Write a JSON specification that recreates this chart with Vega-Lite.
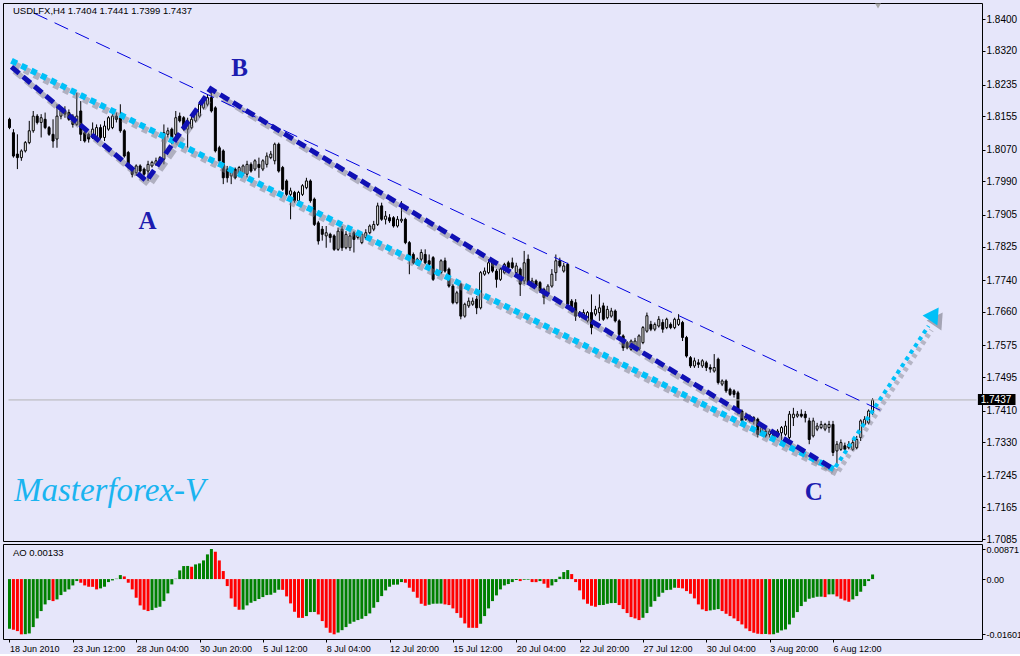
{
"$schema": "https://vega.github.io/schema/vega-lite/v6.json",
"background": "#E6E6FA",
"padding": {"left": 2, "top": 2, "right": 0, "bottom": 0},
"spacing": 3,
"bounds": "flush",
"config": {
  "view": {"stroke": "#000000", "strokeWidth": 1, "fill": "#E6E6FA"},
  "axis": {"labelFont": "Liberation Sans", "labelFontSize": 10, "labelColor": "#000000", "tickColor": "#000000", "tickSize": 3, "domain": false, "grid": false, "title": null, "labelOverlap": false, "labelBound": false, "labelFlush": false},
  "text": {"font": "Liberation Sans"}
},
"datasets": {
"candles": [
{"i":0,"o":1.8147,"h":1.8151,"l":1.8122,"c":1.8126},{"i":1,"o":1.8113,"h":1.8122,"l":1.805,"c":1.8054},{"i":2,"o":1.8059,"h":1.8109,"l":1.8021,"c":1.805},{"i":3,"o":1.805,"h":1.8071,"l":1.8042,"c":1.8067},{"i":4,"o":1.8067,"h":1.8092,"l":1.8063,"c":1.8088},{"i":5,"o":1.8088,"h":1.8143,"l":1.8084,"c":1.8118},{"i":6,"o":1.8118,"h":1.8168,"l":1.8113,"c":1.8155},{"i":7,"o":1.8155,"h":1.816,"l":1.8134,"c":1.8139},{"i":8,"o":1.8139,"h":1.816,"l":1.8101,"c":1.8151},{"i":9,"o":1.8147,"h":1.8164,"l":1.8122,"c":1.8126},
{"i":10,"o":1.8126,"h":1.813,"l":1.8105,"c":1.8109},{"i":11,"o":1.8109,"h":1.8147,"l":1.8075,"c":1.8092},{"i":12,"o":1.8097,"h":1.8185,"l":1.8075,"c":1.8155},{"i":13,"o":1.8155,"h":1.8176,"l":1.8147,"c":1.8168},{"i":14,"o":1.8168,"h":1.818,"l":1.8151,"c":1.816},{"i":15,"o":1.8164,"h":1.8172,"l":1.8143,"c":1.8147},{"i":16,"o":1.8155,"h":1.816,"l":1.8126,"c":1.8134},{"i":17,"o":1.8134,"h":1.8214,"l":1.813,"c":1.8155},{"i":18,"o":1.8168,"h":1.8193,"l":1.8092,"c":1.8109},{"i":19,"o":1.8113,"h":1.8126,"l":1.8088,"c":1.8092},
{"i":20,"o":1.8109,"h":1.8113,"l":1.8088,"c":1.8097},{"i":21,"o":1.8101,"h":1.8139,"l":1.8097,"c":1.8122},{"i":22,"o":1.8101,"h":1.8134,"l":1.8097,"c":1.8126},{"i":23,"o":1.8126,"h":1.8134,"l":1.8097,"c":1.8101},{"i":24,"o":1.8101,"h":1.8143,"l":1.8092,"c":1.813},{"i":25,"o":1.8122,"h":1.8155,"l":1.8118,"c":1.8151},{"i":26,"o":1.8126,"h":1.816,"l":1.8122,"c":1.8155},{"i":27,"o":1.8155,"h":1.8164,"l":1.8139,"c":1.8147},{"i":28,"o":1.8151,"h":1.8185,"l":1.8113,"c":1.8118},{"i":29,"o":1.8118,"h":1.8122,"l":1.805,"c":1.8054},
{"i":30,"o":1.8063,"h":1.8067,"l":1.8021,"c":1.8025},{"i":31,"o":1.8025,"h":1.8029,"l":1.8,"c":1.8008},{"i":32,"o":1.8012,"h":1.8033,"l":1.8004,"c":1.8029},{"i":33,"o":1.8029,"h":1.8033,"l":1.8012,"c":1.8016},{"i":34,"o":1.8021,"h":1.8025,"l":1.8004,"c":1.8008},{"i":35,"o":1.8016,"h":1.8042,"l":1.7991,"c":1.8033},{"i":36,"o":1.8029,"h":1.8042,"l":1.8025,"c":1.8038},{"i":37,"o":1.8033,"h":1.805,"l":1.8029,"c":1.8042},{"i":38,"o":1.8038,"h":1.8054,"l":1.8033,"c":1.805},{"i":39,"o":1.8046,"h":1.8134,"l":1.8033,"c":1.8113},
{"i":40,"o":1.8109,"h":1.8126,"l":1.8101,"c":1.8118},{"i":41,"o":1.8122,"h":1.8126,"l":1.8084,"c":1.8088},{"i":42,"o":1.8109,"h":1.8168,"l":1.8101,"c":1.8151},{"i":43,"o":1.8155,"h":1.8164,"l":1.8139,"c":1.8143},{"i":44,"o":1.8151,"h":1.8155,"l":1.8118,"c":1.8122},{"i":45,"o":1.8122,"h":1.8151,"l":1.8075,"c":1.8143},{"i":46,"o":1.8126,"h":1.8155,"l":1.8122,"c":1.8147},{"i":47,"o":1.8143,"h":1.8168,"l":1.8139,"c":1.8164},{"i":48,"o":1.8155,"h":1.8193,"l":1.8151,"c":1.8185},{"i":49,"o":1.8176,"h":1.8202,"l":1.8172,"c":1.8193},
{"i":50,"o":1.8185,"h":1.821,"l":1.818,"c":1.8202},{"i":51,"o":1.8202,"h":1.8223,"l":1.8164,"c":1.8168},{"i":52,"o":1.8176,"h":1.818,"l":1.8063,"c":1.8067},{"i":53,"o":1.8075,"h":1.808,"l":1.8033,"c":1.8042},{"i":54,"o":1.8067,"h":1.8071,"l":1.7983,"c":1.7999},{"i":55,"o":1.8021,"h":1.8029,"l":1.7987,"c":1.7999},{"i":56,"o":1.8004,"h":1.8021,"l":1.7983,"c":1.8016},{"i":57,"o":1.8021,"h":1.8025,"l":1.7995,"c":1.7999},{"i":58,"o":1.8008,"h":1.8029,"l":1.8,"c":1.8025},{"i":59,"o":1.8008,"h":1.8033,"l":1.8004,"c":1.8029},
{"i":60,"o":1.8008,"h":1.8042,"l":1.8,"c":1.8033},{"i":61,"o":1.8033,"h":1.8038,"l":1.8012,"c":1.8016},{"i":62,"o":1.8021,"h":1.8046,"l":1.8016,"c":1.8042},{"i":63,"o":1.8033,"h":1.805,"l":1.7999,"c":1.8025},{"i":64,"o":1.8021,"h":1.8046,"l":1.8016,"c":1.8042},{"i":65,"o":1.8033,"h":1.8063,"l":1.8025,"c":1.8054},{"i":66,"o":1.805,"h":1.8067,"l":1.8046,"c":1.8059},{"i":67,"o":1.8042,"h":1.8088,"l":1.8033,"c":1.8084},{"i":68,"o":1.8084,"h":1.8088,"l":1.8012,"c":1.8016},{"i":69,"o":1.8025,"h":1.8029,"l":1.7966,"c":1.797},
{"i":70,"o":1.7991,"h":1.7995,"l":1.7953,"c":1.7957},{"i":71,"o":1.7957,"h":1.7974,"l":1.7894,"c":1.7966},{"i":72,"o":1.7962,"h":1.7966,"l":1.7936,"c":1.7941},{"i":73,"o":1.7941,"h":1.7966,"l":1.7936,"c":1.7962},{"i":74,"o":1.7957,"h":1.7983,"l":1.7953,"c":1.7979},{"i":75,"o":1.7974,"h":1.7999,"l":1.797,"c":1.7991},{"i":76,"o":1.7991,"h":1.7995,"l":1.7936,"c":1.7941},{"i":77,"o":1.7945,"h":1.7949,"l":1.7877,"c":1.7881},{"i":78,"o":1.7885,"h":1.789,"l":1.783,"c":1.7839},{"i":79,"o":1.7869,"h":1.7877,"l":1.784,"c":1.7856},
{"i":80,"o":1.7852,"h":1.7877,"l":1.7822,"c":1.786},{"i":81,"o":1.7856,"h":1.786,"l":1.7835,"c":1.7848},{"i":82,"o":1.7852,"h":1.7856,"l":1.7814,"c":1.7818},{"i":83,"o":1.7818,"h":1.7873,"l":1.7814,"c":1.7864},{"i":84,"o":1.7869,"h":1.7877,"l":1.7814,"c":1.7822},{"i":85,"o":1.7822,"h":1.7864,"l":1.7818,"c":1.7856},{"i":86,"o":1.7822,"h":1.786,"l":1.7814,"c":1.7852},{"i":87,"o":1.786,"h":1.7864,"l":1.781,"c":1.7843},{"i":88,"o":1.7848,"h":1.7864,"l":1.7843,"c":1.7856},{"i":89,"o":1.7835,"h":1.786,"l":1.7831,"c":1.7856},
{"i":90,"o":1.7848,"h":1.7869,"l":1.7843,"c":1.786},{"i":91,"o":1.786,"h":1.7881,"l":1.7856,"c":1.7877},{"i":92,"o":1.7869,"h":1.789,"l":1.7864,"c":1.7881},{"i":93,"o":1.7881,"h":1.7936,"l":1.7877,"c":1.7928},{"i":94,"o":1.7928,"h":1.7936,"l":1.789,"c":1.7894},{"i":95,"o":1.7894,"h":1.7915,"l":1.7881,"c":1.7902},{"i":96,"o":1.7898,"h":1.7907,"l":1.7885,"c":1.789},{"i":97,"o":1.7898,"h":1.7902,"l":1.7873,"c":1.7877},{"i":98,"o":1.7877,"h":1.7902,"l":1.7873,"c":1.7894},{"i":99,"o":1.789,"h":1.794,"l":1.7885,"c":1.7894},
{"i":100,"o":1.7894,"h":1.7898,"l":1.7831,"c":1.7835},{"i":101,"o":1.7835,"h":1.7839,"l":1.7755,"c":1.7801},{"i":102,"o":1.7805,"h":1.781,"l":1.778,"c":1.7784},{"i":103,"o":1.7793,"h":1.7797,"l":1.7776,"c":1.778},{"i":104,"o":1.7793,"h":1.7818,"l":1.7788,"c":1.781},{"i":105,"o":1.7805,"h":1.7818,"l":1.778,"c":1.7784},{"i":106,"o":1.7789,"h":1.7805,"l":1.7772,"c":1.778},{"i":107,"o":1.7797,"h":1.7801,"l":1.7738,"c":1.7742},{"i":108,"o":1.7763,"h":1.7768,"l":1.7751,"c":1.7755},{"i":109,"o":1.7759,"h":1.7793,"l":1.7755,"c":1.7789},
{"i":110,"o":1.7789,"h":1.7797,"l":1.7759,"c":1.7763},{"i":111,"o":1.7768,"h":1.7772,"l":1.7721,"c":1.7725},{"i":112,"o":1.7725,"h":1.773,"l":1.7679,"c":1.7683},{"i":113,"o":1.7683,"h":1.7713,"l":1.7679,"c":1.7708},{"i":114,"o":1.773,"h":1.7734,"l":1.7641,"c":1.7649},{"i":115,"o":1.7649,"h":1.7683,"l":1.7645,"c":1.7679},{"i":116,"o":1.7675,"h":1.7696,"l":1.767,"c":1.7687},{"i":117,"o":1.7679,"h":1.7696,"l":1.7675,"c":1.7687},{"i":118,"o":1.7692,"h":1.77,"l":1.7654,"c":1.767},{"i":119,"o":1.767,"h":1.7763,"l":1.7666,"c":1.7759},
{"i":120,"o":1.7755,"h":1.7772,"l":1.7751,"c":1.7763},{"i":121,"o":1.7759,"h":1.7793,"l":1.7755,"c":1.7784},{"i":122,"o":1.7784,"h":1.7793,"l":1.7759,"c":1.7763},{"i":123,"o":1.7763,"h":1.7768,"l":1.7721,"c":1.7742},{"i":124,"o":1.7742,"h":1.7772,"l":1.7738,"c":1.7768},{"i":125,"o":1.7759,"h":1.7784,"l":1.7755,"c":1.778},{"i":126,"o":1.7784,"h":1.7789,"l":1.7768,"c":1.7772},{"i":127,"o":1.7784,"h":1.7797,"l":1.7768,"c":1.7772},{"i":128,"o":1.7759,"h":1.7784,"l":1.7755,"c":1.7776},{"i":129,"o":1.7768,"h":1.7772,"l":1.77,"c":1.773},
{"i":130,"o":1.7738,"h":1.7814,"l":1.773,"c":1.7784},{"i":131,"o":1.7793,"h":1.7805,"l":1.773,"c":1.7734},{"i":132,"o":1.773,"h":1.7746,"l":1.7725,"c":1.7738},{"i":133,"o":1.7738,"h":1.7742,"l":1.7721,"c":1.7725},{"i":134,"o":1.7734,"h":1.7738,"l":1.7708,"c":1.7713},{"i":135,"o":1.7717,"h":1.7721,"l":1.7679,"c":1.7696},{"i":136,"o":1.7704,"h":1.773,"l":1.77,"c":1.7725},{"i":137,"o":1.7725,"h":1.7768,"l":1.7721,"c":1.7755},{"i":138,"o":1.7759,"h":1.7805,"l":1.7738,"c":1.7789},{"i":139,"o":1.7789,"h":1.7797,"l":1.7772,"c":1.7776},
{"i":140,"o":1.7763,"h":1.7784,"l":1.7759,"c":1.7776},{"i":141,"o":1.778,"h":1.7784,"l":1.7675,"c":1.7679},{"i":142,"o":1.7687,"h":1.7692,"l":1.7658,"c":1.7662},{"i":143,"o":1.7683,"h":1.7692,"l":1.7637,"c":1.7649},{"i":144,"o":1.7649,"h":1.7662,"l":1.7645,"c":1.7658},{"i":145,"o":1.7649,"h":1.7666,"l":1.7645,"c":1.7658},{"i":146,"o":1.7637,"h":1.7662,"l":1.7633,"c":1.7658},{"i":147,"o":1.7658,"h":1.7704,"l":1.7603,"c":1.762},{"i":148,"o":1.7654,"h":1.7675,"l":1.7649,"c":1.7666},{"i":149,"o":1.7658,"h":1.7704,"l":1.7637,"c":1.767},
{"i":150,"o":1.7675,"h":1.7683,"l":1.7637,"c":1.7641},{"i":151,"o":1.7645,"h":1.7675,"l":1.7641,"c":1.7666},{"i":152,"o":1.7649,"h":1.767,"l":1.7645,"c":1.7662},{"i":153,"o":1.7662,"h":1.7666,"l":1.7633,"c":1.7637},{"i":154,"o":1.7637,"h":1.7641,"l":1.7599,"c":1.7603},{"i":155,"o":1.7599,"h":1.7603,"l":1.7561,"c":1.7569},{"i":156,"o":1.7582,"h":1.7586,"l":1.7565,"c":1.7569},{"i":157,"o":1.7565,"h":1.759,"l":1.7561,"c":1.7586},{"i":158,"o":1.7569,"h":1.7594,"l":1.7565,"c":1.7586},{"i":159,"o":1.7565,"h":1.7603,"l":1.7561,"c":1.7599},
{"i":160,"o":1.7582,"h":1.7624,"l":1.7578,"c":1.762},{"i":161,"o":1.7611,"h":1.7658,"l":1.7607,"c":1.765},{"i":162,"o":1.7628,"h":1.7637,"l":1.7611,"c":1.7616},{"i":163,"o":1.7616,"h":1.7633,"l":1.7611,"c":1.7628},{"i":164,"o":1.7624,"h":1.7649,"l":1.762,"c":1.7641},{"i":165,"o":1.7633,"h":1.7641,"l":1.7607,"c":1.7616},{"i":166,"o":1.762,"h":1.7645,"l":1.7616,"c":1.7641},{"i":167,"o":1.7628,"h":1.7633,"l":1.7616,"c":1.762},{"i":168,"o":1.762,"h":1.7645,"l":1.7616,"c":1.7641},{"i":169,"o":1.7628,"h":1.7654,"l":1.7624,"c":1.7641},
{"i":170,"o":1.7633,"h":1.7637,"l":1.7586,"c":1.7595},{"i":171,"o":1.7595,"h":1.7599,"l":1.7544,"c":1.7548},{"i":172,"o":1.7544,"h":1.7548,"l":1.7518,"c":1.7523},{"i":173,"o":1.7523,"h":1.7544,"l":1.7518,"c":1.7536},{"i":174,"o":1.7531,"h":1.754,"l":1.7518,"c":1.7527},{"i":175,"o":1.7523,"h":1.754,"l":1.7518,"c":1.7536},{"i":176,"o":1.7531,"h":1.7536,"l":1.751,"c":1.7519},{"i":177,"o":1.7519,"h":1.7527,"l":1.7506,"c":1.7515},{"i":178,"o":1.751,"h":1.7553,"l":1.7506,"c":1.7519},{"i":179,"o":1.754,"h":1.7544,"l":1.7476,"c":1.7481},
{"i":180,"o":1.7477,"h":1.7489,"l":1.7472,"c":1.7485},{"i":181,"o":1.7485,"h":1.7489,"l":1.7455,"c":1.746},{"i":182,"o":1.7464,"h":1.7468,"l":1.7447,"c":1.7451},{"i":183,"o":1.746,"h":1.7464,"l":1.7443,"c":1.7451},{"i":184,"o":1.7455,"h":1.746,"l":1.74,"c":1.7405},{"i":185,"o":1.7409,"h":1.7413,"l":1.738,"c":1.7384},{"i":186,"o":1.7388,"h":1.7405,"l":1.7384,"c":1.7396},{"i":187,"o":1.7396,"h":1.74,"l":1.738,"c":1.7384},{"i":188,"o":1.7392,"h":1.7396,"l":1.7375,"c":1.7384},{"i":189,"o":1.7388,"h":1.7392,"l":1.7342,"c":1.735},
{"i":190,"o":1.735,"h":1.7375,"l":1.7346,"c":1.7367},{"i":191,"o":1.7358,"h":1.7367,"l":1.7342,"c":1.7346},{"i":192,"o":1.735,"h":1.7363,"l":1.7342,"c":1.7358},{"i":193,"o":1.7354,"h":1.7358,"l":1.7337,"c":1.7342},{"i":194,"o":1.7346,"h":1.7363,"l":1.7342,"c":1.7358},{"i":195,"o":1.7354,"h":1.7371,"l":1.7325,"c":1.7367},{"i":196,"o":1.735,"h":1.7384,"l":1.7346,"c":1.7371},{"i":197,"o":1.7342,"h":1.7409,"l":1.7337,"c":1.7401},{"i":198,"o":1.7392,"h":1.7417,"l":1.7371,"c":1.7401},{"i":199,"o":1.7396,"h":1.7409,"l":1.7392,"c":1.7401},
{"i":200,"o":1.7401,"h":1.7413,"l":1.7392,"c":1.7396},{"i":201,"o":1.7401,"h":1.7409,"l":1.738,"c":1.7392},{"i":202,"o":1.7384,"h":1.7392,"l":1.7325,"c":1.7337},{"i":203,"o":1.7346,"h":1.7392,"l":1.7342,"c":1.7384},{"i":204,"o":1.7363,"h":1.7379,"l":1.7358,"c":1.7371},{"i":205,"o":1.7367,"h":1.7384,"l":1.7363,"c":1.7375},{"i":206,"o":1.7363,"h":1.7379,"l":1.7358,"c":1.7375},{"i":207,"o":1.7367,"h":1.7384,"l":1.7354,"c":1.7375},{"i":208,"o":1.7375,"h":1.7384,"l":1.7295,"c":1.7304},{"i":209,"o":1.7308,"h":1.7333,"l":1.7274,"c":1.7325},
{"i":210,"o":1.7312,"h":1.7337,"l":1.7308,"c":1.7329},{"i":211,"o":1.7321,"h":1.7329,"l":1.7304,"c":1.7312},{"i":212,"o":1.7316,"h":1.7333,"l":1.7312,"c":1.7325},{"i":213,"o":1.7312,"h":1.7337,"l":1.7308,"c":1.7329},{"i":214,"o":1.7316,"h":1.7346,"l":1.7312,"c":1.7337},{"i":215,"o":1.7342,"h":1.7388,"l":1.7333,"c":1.7384},{"i":216,"o":1.7375,"h":1.7396,"l":1.7371,"c":1.7388},{"i":217,"o":1.7379,"h":1.7413,"l":1.7375,"c":1.7409},{"i":218,"o":1.7404,"h":1.7441,"l":1.7399,"c":1.7437}
],
"ao": [
{"i":0,"v":-0.01439,"d":"u"},{"i":1,"v":-0.01468,"d":"d"},{"i":2,"v":-0.01507,"d":"d"},{"i":3,"v":-0.01601,"d":"d"},{"i":4,"v":-0.01596,"d":"u"},{"i":5,"v":-0.01575,"d":"u"},{"i":6,"v":-0.01391,"d":"u"},{"i":7,"v":-0.0114,"d":"u"},{"i":8,"v":-0.00927,"d":"u"},{"i":9,"v":-0.00734,"d":"u"},
{"i":10,"v":-0.00609,"d":"u"},{"i":11,"v":-0.00638,"d":"d"},{"i":12,"v":-0.00589,"d":"u"},{"i":13,"v":-0.00464,"d":"u"},{"i":14,"v":-0.00367,"d":"u"},{"i":15,"v":-0.00299,"d":"u"},{"i":16,"v":-0.00184,"d":"u"},{"i":17,"v":-0.00058,"d":"u"},{"i":18,"v":-0.00106,"d":"d"},{"i":19,"v":-0.00184,"d":"d"},
{"i":20,"v":-0.00222,"d":"d"},{"i":21,"v":-0.00225,"d":"d"},{"i":22,"v":-0.00299,"d":"d"},{"i":23,"v":-0.0027,"d":"u"},{"i":24,"v":-0.00222,"d":"u"},{"i":25,"v":-0.00087,"d":"u"},{"i":26,"v":-0.00039,"d":"u"},{"i":27,"v":0.0001,"d":"u"},{"i":28,"v":0.00116,"d":"u"},{"i":29,"v":0.00077,"d":"d"},
{"i":30,"v":-0.00106,"d":"d"},{"i":31,"v":-0.00299,"d":"d"},{"i":32,"v":-0.00541,"d":"d"},{"i":33,"v":-0.00763,"d":"d"},{"i":34,"v":-0.00889,"d":"d"},{"i":35,"v":-0.00927,"d":"d"},{"i":36,"v":-0.00898,"d":"u"},{"i":37,"v":-0.00831,"d":"u"},{"i":38,"v":-0.00802,"d":"u"},{"i":39,"v":-0.00638,"d":"u"},
{"i":40,"v":-0.00415,"d":"u"},{"i":41,"v":-0.00155,"d":"u"},{"i":42,"v":0.0001,"d":"u"},{"i":43,"v":0.00251,"d":"u"},{"i":44,"v":0.00377,"d":"u"},{"i":45,"v":0.0038,"d":"u"},{"i":46,"v":0.00357,"d":"d"},{"i":47,"v":0.00425,"d":"u"},{"i":48,"v":0.00454,"d":"u"},{"i":49,"v":0.00541,"d":"u"},
{"i":50,"v":0.00715,"d":"u"},{"i":51,"v":0.00871,"d":"u"},{"i":52,"v":0.00792,"d":"d"},{"i":53,"v":0.0054,"d":"d"},{"i":54,"v":0.00232,"d":"d"},{"i":55,"v":-0.00203,"d":"d"},{"i":56,"v":-0.0056,"d":"d"},{"i":57,"v":-0.00802,"d":"d"},{"i":58,"v":-0.00889,"d":"d"},{"i":59,"v":-0.00885,"d":"u"},
{"i":60,"v":-0.00763,"d":"u"},{"i":61,"v":-0.00686,"d":"u"},{"i":62,"v":-0.00638,"d":"u"},{"i":63,"v":-0.0058,"d":"u"},{"i":64,"v":-0.00522,"d":"u"},{"i":65,"v":-0.00464,"d":"u"},{"i":66,"v":-0.00454,"d":"u"},{"i":67,"v":-0.00396,"d":"u"},{"i":68,"v":-0.00309,"d":"u"},{"i":69,"v":-0.00312,"d":"d"},
{"i":70,"v":-0.00502,"d":"d"},{"i":71,"v":-0.00705,"d":"d"},{"i":72,"v":-0.00947,"d":"d"},{"i":73,"v":-0.01121,"d":"d"},{"i":74,"v":-0.01125,"d":"d"},{"i":75,"v":-0.01072,"d":"u"},{"i":76,"v":-0.00956,"d":"u"},{"i":77,"v":-0.00953,"d":"u"},{"i":78,"v":-0.01024,"d":"d"},{"i":79,"v":-0.01217,"d":"d"},
{"i":80,"v":-0.0141,"d":"d"},{"i":81,"v":-0.01555,"d":"d"},{"i":82,"v":-0.016,"d":"d"},{"i":83,"v":-0.0155,"d":"u"},{"i":84,"v":-0.0148,"d":"u"},{"i":85,"v":-0.01391,"d":"u"},{"i":86,"v":-0.01294,"d":"u"},{"i":87,"v":-0.01236,"d":"u"},{"i":88,"v":-0.01188,"d":"u"},{"i":89,"v":-0.0115,"d":"u"},
{"i":90,"v":-0.01072,"d":"u"},{"i":91,"v":-0.00995,"d":"u"},{"i":92,"v":-0.00831,"d":"u"},{"i":93,"v":-0.00667,"d":"u"},{"i":94,"v":-0.00493,"d":"u"},{"i":95,"v":-0.00328,"d":"u"},{"i":96,"v":-0.00222,"d":"u"},{"i":97,"v":-0.00164,"d":"u"},{"i":98,"v":-0.0016,"d":"u"},{"i":99,"v":-0.00087,"d":"u"},
{"i":100,"v":-0.00106,"d":"d"},{"i":101,"v":-0.00251,"d":"d"},{"i":102,"v":-0.00367,"d":"d"},{"i":103,"v":-0.00541,"d":"d"},{"i":104,"v":-0.00715,"d":"d"},{"i":105,"v":-0.00773,"d":"d"},{"i":106,"v":-0.00744,"d":"u"},{"i":107,"v":-0.00715,"d":"u"},{"i":108,"v":-0.00712,"d":"u"},{"i":109,"v":-0.0071,"d":"u"},
{"i":110,"v":-0.00734,"d":"d"},{"i":111,"v":-0.00753,"d":"d"},{"i":112,"v":-0.0085,"d":"d"},{"i":113,"v":-0.00985,"d":"d"},{"i":114,"v":-0.01121,"d":"d"},{"i":115,"v":-0.01285,"d":"d"},{"i":116,"v":-0.0141,"d":"d"},{"i":117,"v":-0.01412,"d":"d"},{"i":118,"v":-0.01414,"d":"d"},{"i":119,"v":-0.01294,"d":"u"},
{"i":120,"v":-0.01072,"d":"u"},{"i":121,"v":-0.0085,"d":"u"},{"i":122,"v":-0.00638,"d":"u"},{"i":123,"v":-0.00473,"d":"u"},{"i":124,"v":-0.00299,"d":"u"},{"i":125,"v":-0.00184,"d":"u"},{"i":126,"v":-0.00145,"d":"u"},{"i":127,"v":-0.00087,"d":"u"},{"i":128,"v":-0.00029,"d":"u"},{"i":129,"v":-0.00058,"d":"d"},
{"i":130,"v":-0.0002,"d":"u"},{"i":131,"v":-0.00018,"d":"u"},{"i":132,"v":-0.00087,"d":"d"},{"i":133,"v":-0.00089,"d":"d"},{"i":134,"v":-0.00058,"d":"u"},{"i":135,"v":-0.00135,"d":"d"},{"i":136,"v":-0.00251,"d":"d"},{"i":137,"v":-0.00184,"d":"u"},{"i":138,"v":-0.00087,"d":"u"},{"i":139,"v":0.00068,"d":"u"},
{"i":140,"v":0.00203,"d":"u"},{"i":141,"v":0.00261,"d":"u"},{"i":142,"v":0.00145,"d":"d"},{"i":143,"v":-0.00087,"d":"d"},{"i":144,"v":-0.00328,"d":"d"},{"i":145,"v":-0.00589,"d":"d"},{"i":146,"v":-0.00715,"d":"d"},{"i":147,"v":-0.00773,"d":"d"},{"i":148,"v":-0.00802,"d":"d"},{"i":149,"v":-0.00753,"d":"u"},
{"i":150,"v":-0.0075,"d":"u"},{"i":151,"v":-0.00715,"d":"u"},{"i":152,"v":-0.00696,"d":"u"},{"i":153,"v":-0.00694,"d":"u"},{"i":154,"v":-0.00753,"d":"d"},{"i":155,"v":-0.00869,"d":"d"},{"i":156,"v":-0.00985,"d":"d"},{"i":157,"v":-0.01101,"d":"d"},{"i":158,"v":-0.0114,"d":"d"},{"i":159,"v":-0.01188,"d":"d"},
{"i":160,"v":-0.01121,"d":"u"},{"i":161,"v":-0.00985,"d":"u"},{"i":162,"v":-0.00802,"d":"u"},{"i":163,"v":-0.00638,"d":"u"},{"i":164,"v":-0.00512,"d":"u"},{"i":165,"v":-0.00396,"d":"u"},{"i":166,"v":-0.00319,"d":"u"},{"i":167,"v":-0.00309,"d":"u"},{"i":168,"v":-0.00251,"d":"u"},{"i":169,"v":-0.00255,"d":"d"},
{"i":170,"v":-0.0027,"d":"d"},{"i":171,"v":-0.00348,"d":"d"},{"i":172,"v":-0.00425,"d":"d"},{"i":173,"v":-0.0056,"d":"d"},{"i":174,"v":-0.00734,"d":"d"},{"i":175,"v":-0.00879,"d":"d"},{"i":176,"v":-0.00927,"d":"d"},{"i":177,"v":-0.00908,"d":"u"},{"i":178,"v":-0.00889,"d":"u"},{"i":179,"v":-0.0087,"d":"u"},
{"i":180,"v":-0.00927,"d":"d"},{"i":181,"v":-0.01005,"d":"d"},{"i":182,"v":-0.01072,"d":"d"},{"i":183,"v":-0.0114,"d":"d"},{"i":184,"v":-0.01217,"d":"d"},{"i":185,"v":-0.01314,"d":"d"},{"i":186,"v":-0.0143,"d":"d"},{"i":187,"v":-0.01507,"d":"d"},{"i":188,"v":-0.01555,"d":"d"},{"i":189,"v":-0.01584,"d":"d"},
{"i":190,"v":-0.01594,"d":"d"},{"i":191,"v":-0.0159,"d":"u"},{"i":192,"v":-0.01601,"d":"d"},{"i":193,"v":-0.01598,"d":"u"},{"i":194,"v":-0.01555,"d":"u"},{"i":195,"v":-0.01488,"d":"u"},{"i":196,"v":-0.01459,"d":"u"},{"i":197,"v":-0.01314,"d":"u"},{"i":198,"v":-0.01121,"d":"u"},{"i":199,"v":-0.00956,"d":"u"},
{"i":200,"v":-0.00782,"d":"u"},{"i":201,"v":-0.00657,"d":"u"},{"i":202,"v":-0.0057,"d":"u"},{"i":203,"v":-0.00541,"d":"u"},{"i":204,"v":-0.00512,"d":"u"},{"i":205,"v":-0.0051,"d":"u"},{"i":206,"v":-0.00522,"d":"d"},{"i":207,"v":-0.00444,"d":"u"},{"i":208,"v":-0.00442,"d":"u"},{"i":209,"v":-0.00502,"d":"d"},
{"i":210,"v":-0.0057,"d":"d"},{"i":211,"v":-0.00618,"d":"d"},{"i":212,"v":-0.00657,"d":"d"},{"i":213,"v":-0.00589,"d":"u"},{"i":214,"v":-0.00493,"d":"u"},{"i":215,"v":-0.00367,"d":"u"},{"i":216,"v":-0.00203,"d":"u"},{"i":217,"v":-0.00058,"d":"u"},{"i":218,"v":0.00133,"d":"u"}
],
"lines": [
{"g":"thin","i":6.125,"p":1.84159},{"g":"thin","i":220.375,"p":1.7409},
{"g":"dark","i":0.5,"p":1.82796},{"g":"dark","i":34.625,"p":1.79909},{"g":"dark","i":50.875,"p":1.82237},{"g":"dark","i":208.125,"p":1.72623},
{"g":"light","i":0.5,"p":1.82952},{"g":"light","i":208.125,"p":1.72623},
{"g":"arrow","i":208.625,"p":1.72673},{"g":"arrow","i":232.125,"p":1.7624}
],
"marks": [
{"k":"head","i":233.6,"p":1.76544},
{"k":"shift","i":219.375,"p":1.84337}
],
"notes": [
{"k":"head","i":0.875,"p":1.8421,"t":"USDLFX,H4  1.7404 1.7441 1.7399 1.7437"},
{"k":"abc","i":34.875,"p":1.78897,"t":"A"},
{"k":"abc","i":58.125,"p":1.82768,"t":"B"},
{"k":"abc","i":203.125,"p":1.72041,"t":"C"},
{"k":"brand","i":1.125,"p":1.71813,"t":"Masterforex-V"}
],
"aonote": [
{"i":0.875,"v":0.00755,"t":"AO 0.00133"}
]
},
"vconcat": [
{
  "width": 979,
  "height": 538,
  "encoding": {
    "x": {"field": "i", "type": "quantitative", "scale": {"domain": [-0.375, 244.375], "nice": false, "zero": false}, "axis": null}
  },
  "layer": [
    {
      "data": {"name": "candles"},
      "mark": {"type": "rule", "color": "#000000", "strokeWidth": 1},
      "encoding": {
        "y": {"field": "l", "type": "quantitative", "scale": {"domain": [1.70801, 1.84412], "nice": false, "zero": false},
              "axis": {"orient": "right", "values": [1.84,1.832,1.8235,1.8155,1.807,1.799,1.7905,1.7825,1.774,1.766,1.7575,1.7495,1.741,1.733,1.7245,1.7165,1.7085], "format": ".4f", "labelPadding": 1}},
        "y2": {"field": "h"}
      }
    },
    {
      "data": {"name": "candles"},
      "mark": {"type": "bar", "width": 2, "stroke": "#000000", "strokeWidth": 1},
      "encoding": {
        "y": {"field": "o", "type": "quantitative", "scale": {"domain": [1.70801, 1.84412], "nice": false, "zero": false},
              "axis": {"orient": "right", "values": [1.84,1.832,1.8235,1.8155,1.807,1.799,1.7905,1.7825,1.774,1.766,1.7575,1.7495,1.741,1.733,1.7245,1.7165,1.7085], "format": ".4f", "labelPadding": 1}},
        "y2": {"field": "c"},
        "fill": {"condition": {"test": "datum.c >= datum.o", "value": "#FFFFFF"}, "value": "#000000"}
      }
    },
    {
      "data": {"name": "aonote"},
      "mark": {"type": "rule", "color": "#B4B4B4", "strokeWidth": 1},
      "encoding": {
        "x": {"datum": -0.25, "type": "quantitative", "scale": {"domain": [-0.375, 244.375], "nice": false, "zero": false}, "axis": null},
        "x2": {"datum": 244.25},
        "y": {"datum": 1.7437, "type": "quantitative", "scale": {"domain": [1.70801, 1.84412], "nice": false, "zero": false},
              "axis": {"orient": "right", "values": [1.84,1.832,1.8235,1.8155,1.807,1.799,1.7905,1.7825,1.774,1.766,1.7575,1.7495,1.741,1.733,1.7245,1.7165,1.7085], "format": ".4f", "labelPadding": 1}}
      }
    },
    {
      "data": {"name": "lines"},
      "transform": [{"filter": "datum.g == 'light'"}],
      "mark": {"type": "line", "color": "#7A7A86", "opacity": 0.5, "strokeWidth": 7, "strokeDash": [6, 5], "xOffset": 3, "yOffset": 4, "clip": true},
      "encoding": {"y": {"field": "p", "type": "quantitative", "scale": {"domain": [1.70801, 1.84412], "nice": false, "zero": false},
              "axis": {"orient": "right", "values": [1.84,1.832,1.8235,1.8155,1.807,1.799,1.7905,1.7825,1.774,1.766,1.7575,1.7495,1.741,1.733,1.7245,1.7165,1.7085], "format": ".4f", "labelPadding": 1}}}
    },
    {
      "data": {"name": "lines"},
      "transform": [{"filter": "datum.g == 'dark'"}],
      "mark": {"type": "line", "color": "#7A7A86", "opacity": 0.5, "strokeWidth": 6, "strokeDash": [10, 5], "xOffset": 3, "yOffset": 4, "clip": true},
      "encoding": {"y": {"field": "p", "type": "quantitative", "scale": {"domain": [1.70801, 1.84412], "nice": false, "zero": false},
              "axis": {"orient": "right", "values": [1.84,1.832,1.8235,1.8155,1.807,1.799,1.7905,1.7825,1.774,1.766,1.7575,1.7495,1.741,1.733,1.7245,1.7165,1.7085], "format": ".4f", "labelPadding": 1}}}
    },
    {
      "data": {"name": "lines"},
      "transform": [{"filter": "datum.g == 'arrow'"}],
      "mark": {"type": "line", "color": "#7A7A86", "opacity": 0.45, "strokeWidth": 5, "strokeDash": [4, 4], "xOffset": 3, "yOffset": 4, "clip": true},
      "encoding": {"y": {"field": "p", "type": "quantitative", "scale": {"domain": [1.70801, 1.84412], "nice": false, "zero": false},
              "axis": {"orient": "right", "values": [1.84,1.832,1.8235,1.8155,1.807,1.799,1.7905,1.7825,1.774,1.766,1.7575,1.7495,1.741,1.733,1.7245,1.7165,1.7085], "format": ".4f", "labelPadding": 1}}}
    },
    {
      "data": {"name": "lines"},
      "transform": [{"filter": "datum.g == 'thin'"}],
      "mark": {"type": "line", "color": "#0000E0", "strokeWidth": 1, "strokeDash": [15, 8], "clip": true},
      "encoding": {"y": {"field": "p", "type": "quantitative", "scale": {"domain": [1.70801, 1.84412], "nice": false, "zero": false},
              "axis": {"orient": "right", "values": [1.84,1.832,1.8235,1.8155,1.807,1.799,1.7905,1.7825,1.774,1.766,1.7575,1.7495,1.741,1.733,1.7245,1.7165,1.7085], "format": ".4f", "labelPadding": 1}}}
    },
    {
      "data": {"name": "lines"},
      "transform": [{"filter": "datum.g == 'light'"}],
      "mark": {"type": "line", "color": "#00C0F8", "strokeWidth": 6, "strokeDash": [6, 5], "clip": true},
      "encoding": {"y": {"field": "p", "type": "quantitative", "scale": {"domain": [1.70801, 1.84412], "nice": false, "zero": false},
              "axis": {"orient": "right", "values": [1.84,1.832,1.8235,1.8155,1.807,1.799,1.7905,1.7825,1.774,1.766,1.7575,1.7495,1.741,1.733,1.7245,1.7165,1.7085], "format": ".4f", "labelPadding": 1}}}
    },
    {
      "data": {"name": "lines"},
      "transform": [{"filter": "datum.g == 'dark'"}],
      "mark": {"type": "line", "color": "#1010B4", "strokeWidth": 5, "strokeDash": [10, 5], "clip": true},
      "encoding": {"y": {"field": "p", "type": "quantitative", "scale": {"domain": [1.70801, 1.84412], "nice": false, "zero": false},
              "axis": {"orient": "right", "values": [1.84,1.832,1.8235,1.8155,1.807,1.799,1.7905,1.7825,1.774,1.766,1.7575,1.7495,1.741,1.733,1.7245,1.7165,1.7085], "format": ".4f", "labelPadding": 1}}}
    },
    {
      "data": {"name": "lines"},
      "transform": [{"filter": "datum.g == 'arrow'"}],
      "mark": {"type": "line", "color": "#00C0F8", "strokeWidth": 4, "strokeDash": [4, 4], "clip": true},
      "encoding": {"y": {"field": "p", "type": "quantitative", "scale": {"domain": [1.70801, 1.84412], "nice": false, "zero": false},
              "axis": {"orient": "right", "values": [1.84,1.832,1.8235,1.8155,1.807,1.799,1.7905,1.7825,1.774,1.766,1.7575,1.7495,1.741,1.733,1.7245,1.7165,1.7085], "format": ".4f", "labelPadding": 1}}}
    },
    {
      "data": {"name": "marks"},
      "transform": [{"filter": "datum.k == 'head'"}],
      "mark": {"type": "point", "shape": "triangle-up", "filled": true, "color": "#6E6E7A", "opacity": 0.55, "size": 320, "angle": 34, "xOffset": 4, "yOffset": 5},
      "encoding": {"y": {"field": "p", "type": "quantitative", "scale": {"domain": [1.70801, 1.84412], "nice": false, "zero": false},
              "axis": {"orient": "right", "values": [1.84,1.832,1.8235,1.8155,1.807,1.799,1.7905,1.7825,1.774,1.766,1.7575,1.7495,1.741,1.733,1.7245,1.7165,1.7085], "format": ".4f", "labelPadding": 1}}}
    },
    {
      "data": {"name": "marks"},
      "transform": [{"filter": "datum.k == 'head'"}],
      "mark": {"type": "point", "shape": "triangle-up", "filled": true, "color": "#00C0F8", "opacity": 1, "size": 320, "angle": 34},
      "encoding": {"y": {"field": "p", "type": "quantitative", "scale": {"domain": [1.70801, 1.84412], "nice": false, "zero": false},
              "axis": {"orient": "right", "values": [1.84,1.832,1.8235,1.8155,1.807,1.799,1.7905,1.7825,1.774,1.766,1.7575,1.7495,1.741,1.733,1.7245,1.7165,1.7085], "format": ".4f", "labelPadding": 1}}}
    },
    {
      "data": {"name": "marks"},
      "transform": [{"filter": "datum.k == 'shift'"}],
      "mark": {"type": "point", "shape": "triangle-down", "filled": true, "color": "#A8A8A8", "opacity": 1, "size": 35, "clip": true},
      "encoding": {"y": {"field": "p", "type": "quantitative", "scale": {"domain": [1.70801, 1.84412], "nice": false, "zero": false},
              "axis": {"orient": "right", "values": [1.84,1.832,1.8235,1.8155,1.807,1.799,1.7905,1.7825,1.774,1.766,1.7575,1.7495,1.741,1.733,1.7245,1.7165,1.7085], "format": ".4f", "labelPadding": 1}}}
    },
    {
      "data": {"name": "notes"},
      "transform": [{"filter": "datum.k == 'head'"}],
      "mark": {"type": "text", "align": "left", "baseline": "middle", "font": "Liberation Sans", "fontSize": 9.5, "color": "#000000"},
      "encoding": {"y": {"field": "p", "type": "quantitative", "scale": {"domain": [1.70801, 1.84412], "nice": false, "zero": false},
              "axis": {"orient": "right", "values": [1.84,1.832,1.8235,1.8155,1.807,1.799,1.7905,1.7825,1.774,1.766,1.7575,1.7495,1.741,1.733,1.7245,1.7165,1.7085], "format": ".4f", "labelPadding": 1}}, "text": {"field": "t"}}
    },
    {
      "data": {"name": "notes"},
      "transform": [{"filter": "datum.k == 'abc'"}],
      "mark": {"type": "text", "align": "center", "baseline": "middle", "font": "Liberation Serif", "fontWeight": "bold", "fontSize": 25, "color": "#1C1CB0"},
      "encoding": {"y": {"field": "p", "type": "quantitative", "scale": {"domain": [1.70801, 1.84412], "nice": false, "zero": false},
              "axis": {"orient": "right", "values": [1.84,1.832,1.8235,1.8155,1.807,1.799,1.7905,1.7825,1.774,1.766,1.7575,1.7495,1.741,1.733,1.7245,1.7165,1.7085], "format": ".4f", "labelPadding": 1}}, "text": {"field": "t"}}
    },
    {
      "data": {"name": "notes"},
      "transform": [{"filter": "datum.k == 'brand'"}],
      "mark": {"type": "text", "align": "left", "baseline": "alphabetic", "font": "Liberation Serif", "fontStyle": "italic", "fontSize": 33, "color": "#1AB4F0"},
      "encoding": {"y": {"field": "p", "type": "quantitative", "scale": {"domain": [1.70801, 1.84412], "nice": false, "zero": false},
              "axis": {"orient": "right", "values": [1.84,1.832,1.8235,1.8155,1.807,1.799,1.7905,1.7825,1.774,1.766,1.7575,1.7495,1.741,1.733,1.7245,1.7165,1.7085], "format": ".4f", "labelPadding": 1}}, "text": {"field": "t"}}
    },
    {
      "data": {"name": "aonote"},
      "mark": {"type": "rect", "color": "#000000", "clip": false},
      "encoding": {
        "x": {"datum": 244.6, "type": "quantitative", "scale": {"domain": [-0.375, 244.375], "nice": false, "zero": false}, "axis": null},
        "x2": {"datum": 254.1},
        "y": {"datum": 1.7452, "type": "quantitative", "scale": {"domain": [1.70801, 1.84412], "nice": false, "zero": false},
              "axis": {"orient": "right", "values": [1.84,1.832,1.8235,1.8155,1.807,1.799,1.7905,1.7825,1.774,1.766,1.7575,1.7495,1.741,1.733,1.7245,1.7165,1.7085], "format": ".4f", "labelPadding": 1}},
        "y2": {"datum": 1.74242}
      }
    },
    {
      "data": {"name": "aonote"},
      "mark": {"type": "text", "align": "left", "baseline": "middle", "font": "Liberation Sans", "fontSize": 10, "color": "#FFFFFF", "clip": false},
      "encoding": {
        "x": {"datum": 245.3, "type": "quantitative", "scale": {"domain": [-0.375, 244.375], "nice": false, "zero": false}, "axis": null},
        "y": {"datum": 1.7438, "type": "quantitative", "scale": {"domain": [1.70801, 1.84412], "nice": false, "zero": false},
              "axis": {"orient": "right", "values": [1.84,1.832,1.8235,1.8155,1.807,1.799,1.7905,1.7825,1.774,1.766,1.7575,1.7495,1.741,1.733,1.7245,1.7165,1.7085], "format": ".4f", "labelPadding": 1}},
        "text": {"value": "1.7437"}
      }
    }
  ]
},
{
  "width": 979,
  "height": 95,
  "encoding": {
    "x": {"field": "i", "type": "quantitative", "scale": {"domain": [-0.375, 244.375], "nice": false, "zero": false},
          "axis": {"orient": "bottom", "values": [0,16,32,48,64,80,96,112,128,144,160,176,192,208], "labelAlign": "left", "labelPadding": 2, "labelBaseline": "top", "labelFontSize": 9,
                   "labelExpr": "['18 Jun 2010','23 Jun 12:00','28 Jun 04:00','30 Jun 20:00','5 Jul 12:00','8 Jul 04:00','12 Jul 20:00','15 Jul 12:00','20 Jul 04:00','22 Jul 20:00','27 Jul 12:00','30 Jul 04:00','3 Aug 20:00','6 Aug 12:00'][round(datum.value/16)]"}},
    "y": {"field": "v", "type": "quantitative", "scale": {"domain": [-0.01736, 0.01016], "nice": false, "zero": false},
          "axis": {"orient": "right", "values": [0.00871, 0, -0.01601], "labelPadding": 1, "labelFontSize": 9, "labelExpr": "datum.value == 0 ? '0.00' : '' + datum.value"}}
  },
  "layer": [
    {
      "data": {"name": "ao"},
      "mark": {"type": "bar", "width": 3},
      "encoding": {
        "y2": {"datum": 0},
        "color": {"field": "d", "type": "nominal", "scale": {"domain": ["u", "d"], "range": ["#008000", "#FF0000"]}, "legend": null}
      }
    },
    {
      "data": {"name": "aonote"},
      "mark": {"type": "text", "align": "left", "baseline": "middle", "font": "Liberation Sans", "fontSize": 9.5, "color": "#000000"},
      "encoding": {
        "text": {"field": "t"}
      }
    }
  ]
}
]
}
